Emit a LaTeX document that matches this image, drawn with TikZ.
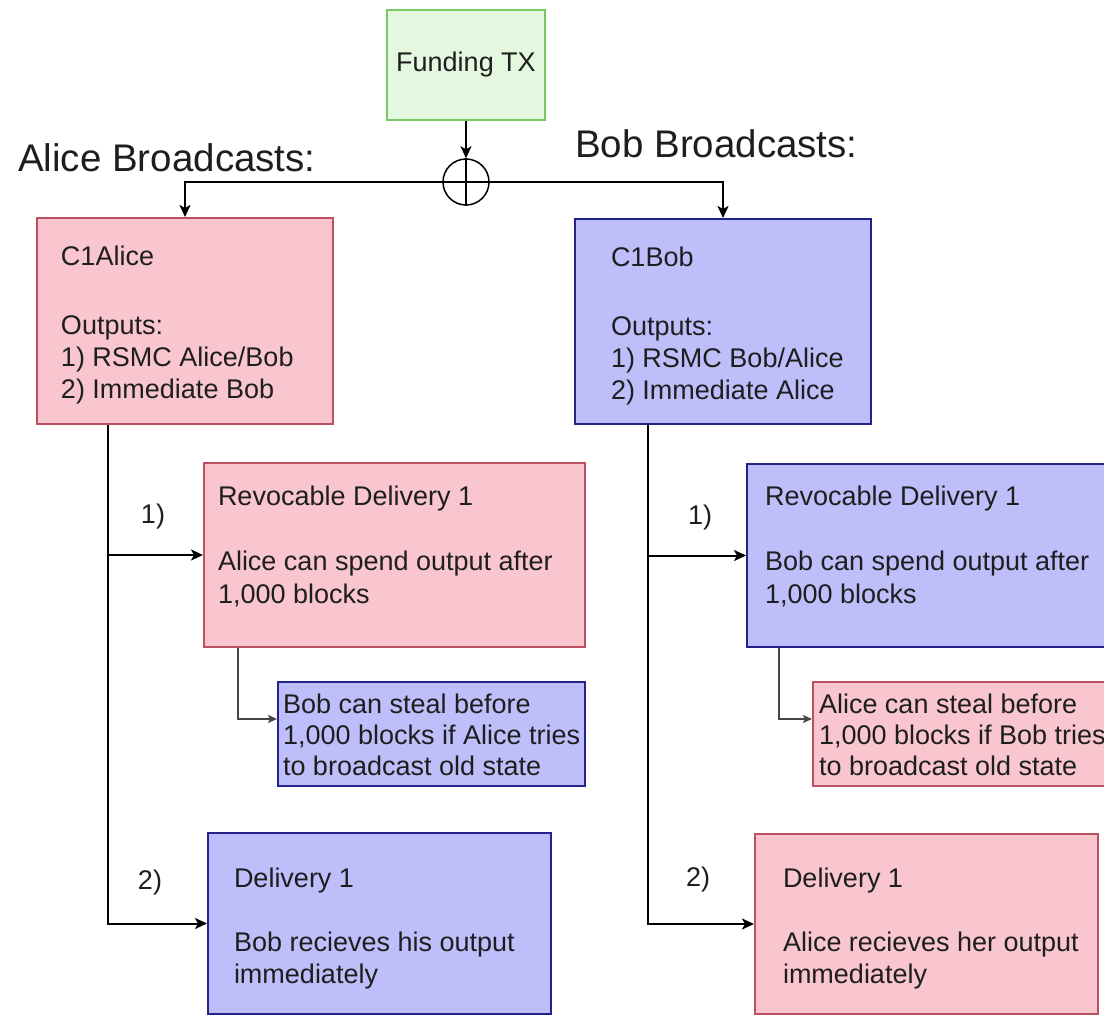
\documentclass[tikz,border=0pt]{standalone}
\usepackage{fontspec}
\setmainfont{Liberation Sans}
\usetikzlibrary{arrows.meta}
\definecolor{pinkfill}{RGB}{249,198,208}
\definecolor{pinkline}{RGB}{190,80,95}
\definecolor{bluefill}{RGB}{190,190,250}
\definecolor{blueline}{RGB}{35,35,140}
\definecolor{greenfill}{RGB}{228,248,224}
\definecolor{greenline}{RGB}{120,200,100}
\definecolor{txt}{RGB}{30,30,30}
\definecolor{conngrey}{RGB}{70,70,70}
% height, width, top pad, left pad, text
\newcommand\boxtxt[5]{\parbox[c][#1][t]{#2}{\vspace*{#3}\raggedright\setlength\leftskip{#4}\strut #5\par}}
\tikzset{
  body/.style={font=\fontsize{27}{32}\selectfont, text=txt},
  smallbody/.style={font=\fontsize{27}{31}\selectfont, text=txt},
  boxbase/.style={draw, line width=2pt, inner sep=0pt, anchor=north west},
  pinkbox/.style={boxbase, fill=pinkfill, draw=pinkline},
  bluebox/.style={boxbase, fill=bluefill, draw=blueline},
  conn/.style={line width=2pt, draw=black, -{Stealth[length=12pt,width=11pt,inset=3pt]}},
  conntwo/.style={line width=1.8pt, draw=conngrey, -{Stealth[length=9pt,width=8pt,inset=2pt]}},
  heading/.style={font=\fontsize{38.5}{46}\selectfont, text=txt, inner sep=0pt, anchor=base west},
  numlabel/.style={body, inner sep=0pt}
}
\begin{document}
\begin{tikzpicture}[x=1pt,y=-1pt]
\useasboundingbox (0,0) rectangle (1104,1015);
\clip (0,0) rectangle (1104,1015);
\fill[white] (0,0) rectangle (1104,1015);

% Funding
\node[draw=greenline, fill=greenfill, line width=2pt, minimum width=158pt, minimum height=110pt, body] (fund) at (466,65) {Funding TX};
\node[draw=black, line width=1.5pt, circle, minimum size=46pt, inner sep=0pt] (xor) at (466,182) {};

% headings
\node[heading] (ha) at (18,171) {Alice Broadcasts:};
\node[heading] (hb) at (575,157) {Bob Broadcasts:};

% commitment boxes
\node[pinkbox, body] (c1a) at (36,217) {\boxtxt{206pt}{296pt}{24.6pt}{24pt}{C1Alice\\[37pt]Outputs:\\1) RSMC Alice/Bob\\2) Immediate Bob}};
\node[bluebox, body] (c1b) at (574,218) {\boxtxt{205pt}{296pt}{24.6pt}{36pt}{C1Bob\\[37pt]Outputs:\\1) RSMC Bob/Alice\\2) Immediate Alice}};

% revocable delivery boxes
\node[pinkbox, body] (rda) at (203,462) {\boxtxt{184pt}{381pt}{19.6pt}{14pt}{Revocable Delivery 1\\[33pt]Alice can spend output after\\[1pt]1,000 blocks}};
\node[bluebox, body] (rdb) at (746,463) {\boxtxt{183pt}{381pt}{18.6pt}{18pt}{Revocable Delivery 1\\[33pt]Bob can spend output after\\[1pt]1,000 blocks}};

% steal boxes
\node[bluebox, smallbody] (sba) at (277,681) {\boxtxt{104pt}{307pt}{9.3pt}{5pt}{Bob can steal before\\\mbox{1,000 blocks if Alice tries}\\to broadcast old state}};
\node[pinkbox, smallbody] (sbb) at (812,681) {\boxtxt{104pt}{307pt}{9.3pt}{6pt}{Alice can steal before\\\mbox{1,000 blocks if Bob tries}\\to broadcast old state}};

% delivery boxes
\node[bluebox, body] (dlb) at (207,832) {\boxtxt{181pt}{343pt}{31.6pt}{26pt}{Delivery 1\\[32pt]Bob recieves his output\\immediately}};
\node[pinkbox, body] (dla) at (754,833) {\boxtxt{180pt}{343pt}{30.6pt}{28pt}{Delivery 1\\[32pt]Alice recieves her output\\immediately}};

% number labels
\node[numlabel] (n1a) at (153,517) {1)};
\node[numlabel] (n1b) at (700,518) {1)};
\node[numlabel] (n2a) at (150,883) {2)};
\node[numlabel] (n2b) at (698,880) {2)};

% connectors
\draw[conn] (fund.south) -- (xor.north);
\draw[line width=1.5pt] (xor.north) -- (xor.south);
\draw[conn] (xor.center) -| (c1a.north);
\draw[conn] (xor.center) -| (c1b.north);

\coordinate (ta) at ([xshift=72pt]c1a.south west);
\coordinate (tb) at ([xshift=74pt]c1b.south west);
\draw[conn] (ta) |- (rda.west);
\draw[conn] (ta) |- (dlb.west);
\draw[conn] (tb) |- (rdb.west);
\draw[conn] (tb) |- (dla.west);

\coordinate (sa) at ([xshift=35pt]rda.south west);
\coordinate (sb) at ([xshift=33pt]rdb.south west);
\draw[conntwo] (sa) |- ([yshift=15pt]sba.west);
\draw[conntwo] (sb) |- ([yshift=15pt]sbb.west);
\end{tikzpicture}
\end{document}
